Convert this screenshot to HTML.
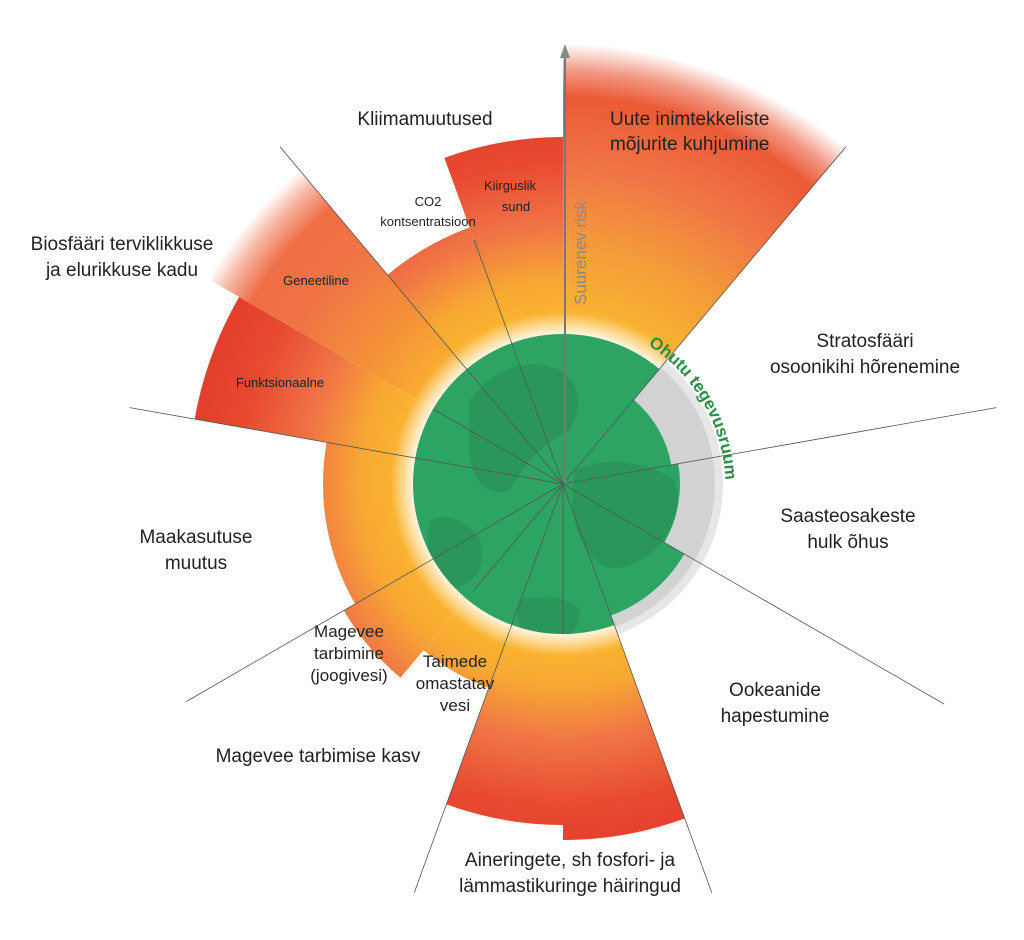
<!DOCTYPE html>
<html><head><meta charset="utf-8">
<style>
html,body{margin:0;padding:0;background:#fff;}
svg{display:block;}
text{font-family:"Liberation Sans",sans-serif;fill:#222;}
</style></head>
<body>
<svg id="s" width="1024" height="940" viewBox="0 0 1024 940" xmlns="http://www.w3.org/2000/svg">
<defs>
<radialGradient id="g" gradientUnits="userSpaceOnUse" cx="563" cy="484" r="430">
<stop offset="0.35" stop-color="#fbb92f"/>
<stop offset="0.47" stop-color="#f8a833"/>
<stop offset="0.6" stop-color="#f07446"/>
<stop offset="0.75" stop-color="#e84a30"/>
<stop offset="1" stop-color="#e0302a"/>
</radialGradient>
<radialGradient id="gn" gradientUnits="userSpaceOnUse" cx="563" cy="484" r="440">
<stop offset="0.35" stop-color="#fbb92f"/>
<stop offset="0.55" stop-color="#f39a3a"/>
<stop offset="0.72" stop-color="#f07446"/>
<stop offset="0.88" stop-color="#eb5a35"/>
<stop offset="0.94" stop-color="#f29a86"/>
<stop offset="1" stop-color="#ffffff"/>
</radialGradient>
<radialGradient id="gg" gradientUnits="userSpaceOnUse" cx="563" cy="484" r="410">
<stop offset="0.35" stop-color="#fbb92f"/>
<stop offset="0.55" stop-color="#f49238"/>
<stop offset="0.75" stop-color="#f07446"/>
<stop offset="0.88" stop-color="#ef6e45"/>
<stop offset="0.95" stop-color="#f7b8a6"/>
<stop offset="1" stop-color="#ffffff"/>
</radialGradient>
<radialGradient id="halo" gradientUnits="userSpaceOnUse" cx="563" cy="484" r="172">
<stop offset="0.85" stop-color="#fff" stop-opacity="1"/>
<stop offset="1" stop-color="#fff" stop-opacity="0"/>
</radialGradient>
<clipPath id="disc"><circle cx="563" cy="484" r="150"/></clipPath>
</defs>
<g id="wedges"></g>
<circle cx="563" cy="484" r="172" fill="url(#halo)"/>
<g id="grey"></g>
<g id="green"></g>
<g id="lines" stroke="#555" stroke-width="0.8" fill="none"></g>
<line x1="565" y1="484" x2="565" y2="52" stroke="#777" stroke-width="2"/>
<polygon points="565,44 560,58 570,58" fill="#888"/>
<text x="0" y="0" font-size="17" style="fill:#8a8a8a" transform="translate(586,305) rotate(-90)">Suurenev risk</text>

<text x="425" y="125" font-size="19" text-anchor="middle">Kliimamuutused</text>
<text x="610" y="125" font-size="19">Uute inimtekkeliste</text>
<text x="610" y="150" font-size="19">mõjurite kuhjumine</text>
<text x="428" y="206" font-size="13" text-anchor="middle">CO2</text>
<text x="428" y="226" font-size="13" text-anchor="middle">kontsentratsioon</text>
<text x="510" y="190" font-size="13" text-anchor="middle">Kiirguslik</text>
<text x="516" y="211" font-size="13" text-anchor="middle">sund</text>
<text x="122" y="250" font-size="19" text-anchor="middle">Biosfääri terviklikkuse</text>
<text x="122" y="276" font-size="19" text-anchor="middle">ja elurikkuse kadu</text>
<text x="316" y="285" font-size="13" text-anchor="middle">Geneetiline</text>
<text x="280" y="387" font-size="13" text-anchor="middle">Funktsionaalne</text>
<text x="865" y="347" font-size="19" text-anchor="middle">Stratosfääri</text>
<text x="865" y="373" font-size="19" text-anchor="middle">osoonikihi hõrenemine</text>
<text x="848" y="522" font-size="19" text-anchor="middle">Saasteosakeste</text>
<text x="848" y="548" font-size="19" text-anchor="middle">hulk õhus</text>
<text x="196" y="543" font-size="19" text-anchor="middle">Maakasutuse</text>
<text x="196" y="569" font-size="19" text-anchor="middle">muutus</text>
<text x="349" y="637" font-size="17" text-anchor="middle">Magevee</text>
<text x="349" y="659" font-size="17" text-anchor="middle">tarbimine</text>
<text x="349" y="681" font-size="17" text-anchor="middle">(joogivesi)</text>
<text x="455" y="667" font-size="17" text-anchor="middle">Taimede</text>
<text x="455" y="689" font-size="17" text-anchor="middle">omastatav</text>
<text x="455" y="711" font-size="17" text-anchor="middle">vesi</text>
<text x="775" y="696" font-size="19" text-anchor="middle">Ookeanide</text>
<text x="775" y="722" font-size="19" text-anchor="middle">hapestumine</text>
<text x="318" y="762" font-size="19" text-anchor="middle">Magevee tarbimise kasv</text>
<text x="570" y="866" font-size="19" text-anchor="middle">Aineringete, sh fosfori- ja</text>
<text x="570" y="892" font-size="19" text-anchor="middle">lämmastikuringe häiringud</text>
<path id="arcp" d="M 648 345 A 168 168 0 0 1 722 520" fill="none"/>
<text font-size="17" font-weight="bold" style="fill:#2a8f45"><textPath href="#arcp">Ohutu tegevusruum</textPath></text>
</svg>
<script>
var cx=563,cy=484,NS="http://www.w3.org/2000/svg";
function pt(a,r){var t=a*Math.PI/180;return [cx+r*Math.sin(t),cy-r*Math.cos(t)];}
function wedge(a1,a2,r,fill,parent){
 var p1=pt(a1,r),p2=pt(a2,r);
 var lf=(a2-a1)>180?1:0;
 var d="M"+cx+","+cy+" L"+p1+" A"+r+" "+r+" 0 "+lf+" 1 "+p2+" Z";
 var e=document.createElementNS(NS,"path");e.setAttribute("d",d);e.setAttribute("fill",fill);
 document.getElementById(parent).appendChild(e);}
var W=[[0,40,440,"url(#gn)"],[340,360,347,"url(#g)"],[320,340,273,"url(#g)"],
[300,320,410,"url(#gg)"],[280,300,374,"url(#g)"],[240,280,240,"url(#g)"],
[220,240,253,"url(#g)"],[200,220,217,"url(#g)"],[180,200,341,"url(#g)"],[160,180,356,"url(#g)"]];
W.forEach(function(w){wedge(w[0],w[1],w[2],w[3],"wedges");});
wedge(40,160,160,"#e6e6e6","grey");
wedge(40,160,152,"#d2d2d2","grey");
var gr=[[0,40,150],[40,80,110],[80,120,117],[120,160,140],[160,360,150]];
gr.forEach(function(w){wedge(w[0],w[1],w[2],"#2ea462","green");});
var g=document.getElementById("green");
["M470,400 q40,-50 90,-30 q30,20 10,60 q-40,20 -60,60 q-30,10 -40,-30z",
 "M575,470 q50,-20 100,10 q10,40 -20,70 q-40,30 -60,10 q-30,-30 -20,-90z",
 "M430,520 q30,-10 50,20 q10,40 -30,50 q-30,-20 -20,-70z",
 "M520,600 q40,-10 60,10 q0,30 -40,40 q-30,-20 -20,-50z"].forEach(function(d){
 var e=document.createElementNS(NS,"path");e.setAttribute("d",d);e.setAttribute("fill","#2a9659");
 e.setAttribute("clip-path","url(#disc)");g.appendChild(e);});
var L=[[40,440],[80,440],[120,440],[160,435],[200,435],[240,435],[280,440],[320,440],[300,150],[340,260],[220,140],[180,150]];
var lg=document.getElementById("lines");
L.forEach(function(l){var p=pt(l[0],l[1]);var e=document.createElementNS(NS,"line");
 e.setAttribute("x1",cx);e.setAttribute("y1",cy);e.setAttribute("x2",p[0]);e.setAttribute("y2",p[1]);lg.appendChild(e);});
</script>
</body></html>
